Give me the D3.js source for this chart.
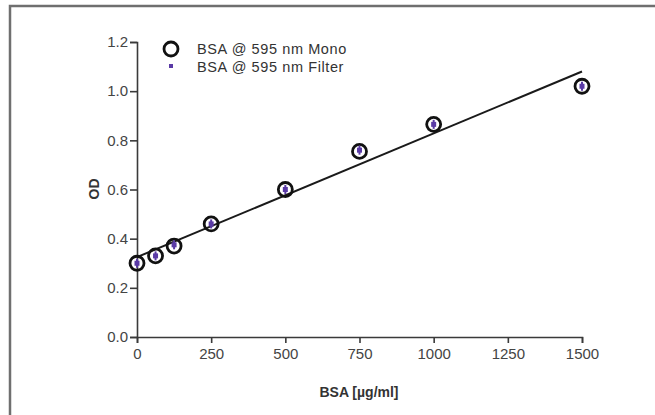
<!DOCTYPE html>
<html>
<head>
<meta charset="utf-8">
<script src="https://cdn.jsdelivr.net/npm/d3@7"></script>
<style>
  body { margin: 0; background: #fff; }
  text { font-family: "Liberation Sans", Arial, sans-serif; }
</style>
</head>
<body>
<div id="graph"></div>
<script>
// data
const concentrations = [0, 62.5, 125, 250, 500, 750, 1000, 1500];
const odMono = [0.30, 0.33, 0.37, 0.46, 0.60, 0.755, 0.865, 1.02];
const odFilter = [0.30, 0.33, 0.375, 0.46, 0.60, 0.76, 0.865, 1.02];
const fitX = [0, 1500];
const fitY = [0.325, 1.08];
const xTicks = [0, 250, 500, 750, 1000, 1250, 1500];
const yTicks = [0.0, 0.2, 0.4, 0.6, 0.8, 1.0, 1.2];
const legendLabels = ["BSA @ 595 nm Mono", "BSA @ 595 nm Filter"];

const W = 655, H = 415;
const margin = {top: 42, right: 73, bottom: 78, left: 137};
const width = W - margin.left - margin.right,
  height = H - margin.top - margin.bottom;

const svg = d3.select("#graph")
  .append("svg")
  .attr("width", W)
  .attr("height", H);

// picture frame (only top and left edges show)
svg.append("path")
  .attr("d", `M10,${H} L10,6 L${W},6`)
  .attr("fill", "none")
  .attr("stroke", "#6f6f6f")
  .attr("stroke-width", 2.5);

const g = svg.append("g")
  .attr("transform", `translate(${margin.left},${margin.top})`);

const x = d3.scaleLinear().domain([0, 1500]).range([0, width]);
const y = d3.scaleLinear().domain([0, 1.2]).range([height, 0]);

// axes
const xAxis = g.append("g")
  .attr("transform", `translate(0,${height})`)
  .call(d3.axisBottom(x).tickValues(xTicks).tickSize(6).tickPadding(5).tickFormat(d3.format("d")));
const yAxis = g.append("g")
  .call(d3.axisLeft(y).tickValues(yTicks).tickSize(7).tickPadding(2).tickFormat(d3.format(".1f")));

[xAxis, yAxis].forEach(a => {
  a.selectAll("path, line").attr("stroke", "#3a3a3a").attr("stroke-width", 1.6);
  a.selectAll("text").attr("fill", "#444").style("font-size", "15px");
});

// regression line
g.append("line")
  .attr("x1", x(fitX[0])).attr("y1", y(fitY[0]))
  .attr("x2", x(fitX[1])).attr("y2", y(fitY[1]))
  .attr("stroke", "#1a1a1a")
  .attr("stroke-width", 2);

// mono points: open circles
g.selectAll("circle.mono")
  .data(concentrations)
  .join("circle")
  .attr("class", "mono")
  .attr("cx", d => x(d))
  .attr("cy", (d, i) => y(odMono[i]))
  .attr("r", 7)
  .attr("fill", "none")
  .attr("stroke", "#111")
  .attr("stroke-width", 2.8);

// filter points: small purple squares with short error bars
const purple = "#5a3aa6";
g.selectAll("line.err")
  .data(concentrations)
  .join("line")
  .attr("class", "err")
  .attr("x1", d => x(d)).attr("x2", d => x(d))
  .attr("y1", (d, i) => y(odFilter[i]) - 4.5)
  .attr("y2", (d, i) => y(odFilter[i]) + 4.5)
  .attr("stroke", purple)
  .attr("stroke-width", 2);
g.selectAll("rect.filter")
  .data(concentrations)
  .join("rect")
  .attr("class", "filter")
  .attr("x", d => x(d) - 2.5)
  .attr("y", (d, i) => y(odFilter[i]) - 2.5)
  .attr("width", 5)
  .attr("height", 5)
  .attr("fill", purple);

// legend
const legend = svg.append("g").attr("transform", "translate(171,49)");
legend.append("circle")
  .attr("r", 7)
  .attr("fill", "none")
  .attr("stroke", "#111")
  .attr("stroke-width", 2.8);
legend.append("rect")
  .attr("x", -2).attr("y", 15).attr("width", 4).attr("height", 4)
  .attr("fill", purple);
legend.selectAll("text")
  .data(legendLabels)
  .join("text")
  .attr("x", 26)
  .attr("y", (d, i) => i * 18 + 5)
  .attr("fill", "#333")
  .style("font-size", "14.5px")
  .style("letter-spacing", "0.6px")
  .text(d => d);

// axis titles
svg.append("text")
  .attr("x", 359)
  .attr("y", 397)
  .attr("text-anchor", "middle")
  .attr("fill", "#333")
  .style("font-size", "14px")
  .style("font-weight", "bold")
  .text("BSA [µg/ml]");
svg.append("text")
  .attr("transform", "translate(99,189) rotate(-90)")
  .attr("text-anchor", "middle")
  .attr("fill", "#333")
  .style("font-size", "14px")
  .style("font-weight", "bold")
  .text("OD");
</script>
</body>
</html>
